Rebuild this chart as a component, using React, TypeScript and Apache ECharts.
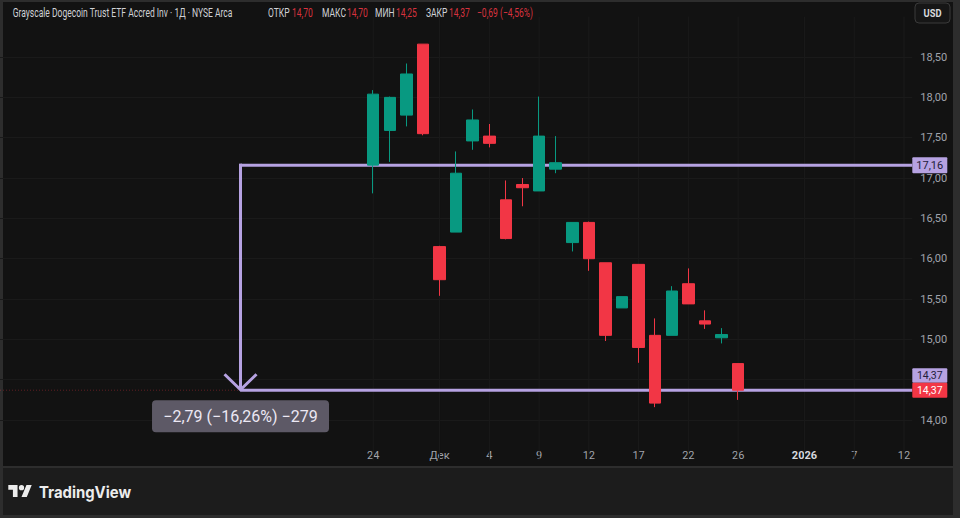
import React, { useEffect, useRef } from 'react';
import * as echarts from 'echarts';

// ---------- data ----------
const padDates = [
  '2025-10-23', '2025-10-24', '2025-10-27', '2025-10-28', '2025-10-29', '2025-10-30', '2025-10-31',
  '2025-11-03', '2025-11-04', '2025-11-05', '2025-11-06', '2025-11-07', '2025-11-10', '2025-11-11',
  '2025-11-12', '2025-11-13', '2025-11-14', '2025-11-17', '2025-11-18', '2025-11-19', '2025-11-20',
  '2025-11-21',
];
const candleDates = [
  '2025-11-24', '2025-11-25', '2025-11-26', '2025-11-28', '2025-12-01', '2025-12-02', '2025-12-03',
  '2025-12-04', '2025-12-05', '2025-12-08', '2025-12-09', '2025-12-10', '2025-12-11', '2025-12-12',
  '2025-12-15', '2025-12-16', '2025-12-17', '2025-12-18', '2025-12-19', '2025-12-22', '2025-12-23',
  '2025-12-24', '2025-12-26',
];
const futureDates = [
  '2025-12-29', '2025-12-30', '2025-12-31', '2026-01-02', '2026-01-05', '2026-01-06', '2026-01-07',
  '2026-01-08', '2026-01-09', '2026-01-12',
];
const opens = [17.16, 17.59, 17.78, 18.66, 16.15, 16.33, 17.46, 17.52, 16.73, 16.92, 16.84, 17.11, 16.2, 16.45, 15.95, 15.39, 15.93, 15.05, 15.05, 15.69, 15.23, 15.02, 14.7];
const closes = [18.04, 18.0, 18.29, 17.55, 15.74, 17.06, 17.72, 17.43, 16.25, 16.88, 17.52, 17.19, 16.45, 16.0, 15.05, 15.53, 14.9, 14.21, 15.6, 15.44, 15.19, 15.06, 14.37];
const lows = [16.81, 17.2, 17.64, 17.53, 15.54, 16.33, 17.35, 17.38, 16.24, 16.65, 16.84, 17.06, 16.09, 15.85, 14.98, 15.39, 14.71, 14.16, 15.05, 15.44, 15.13, 14.95, 14.25];
const highs = [18.09, 18.01, 18.42, 18.66, 16.16, 17.33, 17.85, 17.67, 16.97, 17.0, 18.01, 17.52, 16.45, 16.46, 15.95, 15.53, 15.93, 15.26, 15.66, 15.88, 15.36, 15.14, 14.7];

const tickLabels: [string, string][] = [
  ['2025-11-24', '24'], ['2025-12-01', 'Дек'], ['2025-12-04', '4'], ['2025-12-09', '9'],
  ['2025-12-12', '12'], ['2025-12-17', '17'], ['2025-12-22', '22'], ['2025-12-26', '26'],
  ['2026-01-02', '2026'], ['2026-01-07', '7'], ['2026-01-12', '12'],
];
// price-scale labels shown (14,50 is hidden behind the last-price badges)
const priceTicks = [14.0, 15.0, 15.5, 16.0, 16.5, 17.0, 17.5, 18.0, 18.5];

const rangeStart = '2025-11-12';
const rangeFrom = 17.16;
const rangeTo = 14.37;
const lastClose = 14.37;

const headerTitle = 'Grayscale Dogecoin Trust ETF Accred Inv · 1Д · NYSE Arca';
const headerFields: [string, string][] = [
  ['ОТКР', '14,70'], ['МАКС', '14,70'], ['МИН', '14,25'], ['ЗАКР', '14,37'],
];
const headerChange = '\u22120,69 (\u22124,56%)';

// ---------- helpers ----------
const categories = [...padDates, ...candleDates, ...futureDates];
const labelMap = new Map(tickLabels);
const fmt = (v: number) => (v < 0 ? '\u2212' : '') + Math.abs(v).toFixed(2).replace('.', ',');

const LAV = '#b6a2e2';
const RED = '#f23645';
const GREEN = '#089981';
const FONT = 'Roboto, "Noto Sans", sans-serif';

const LOGO_D = 'M14 22H7V11H0V4h14v18zM28 22h-8l7.5-18h8L28 22zM24 8a4 4 0 1 1-8 0a4 4 0 1 1 8 0z';
let logoRegistered = false;
function ensureLogo() {
  if (logoRegistered) return;
  echarts.graphic.registerShape('tvlogo', echarts.graphic.extendPath(LOGO_D, {}) as any);
  logoRegistered = true;
}

function buildOption(): any {
  const candleData = candleDates.map((d, i) => [d, opens[i], closes[i], lows[i], highs[i]]);
  const startIdx = categories.indexOf(rangeStart);
  const diff = rangeTo - rangeFrom;
  const pct = (diff / rangeFrom) * 100;
  const ticksCount = Math.round(diff * 100);
  const measureText = `${fmt(diff)} (${fmt(pct)}%) ${ticksCount < 0 ? '\u2212' : ''}${Math.abs(ticksCount)}`;

  const headerScale = 0.71;
  const headerX = [268, 322, 375, 426];
  const headerValX = [292, 347, 396, 449];
  const headerEls: any[] = [
    {
      type: 'text', x: 12.7, y: 13, scaleX: headerScale, silent: true,
      style: { text: headerTitle, fill: '#cfd1d6', font: `12px ${FONT}`, verticalAlign: 'middle' },
    },
  ];
  headerFields.forEach(([k, v], i) => {
    headerEls.push({
      type: 'text', x: headerX[i], y: 13, scaleX: headerScale, silent: true,
      style: { text: k, fill: '#cfd1d6', font: `12px ${FONT}`, verticalAlign: 'middle' },
    });
    headerEls.push({
      type: 'text', x: headerValX[i], y: 13, scaleX: headerScale, silent: true,
      style: { text: v, fill: '#d8333f', font: `12px ${FONT}`, verticalAlign: 'middle' },
    });
  });
  headerEls.push({
    type: 'text', x: 477, y: 13, scaleX: headerScale, silent: true,
    style: { text: headerChange, fill: '#d8333f', font: `12px ${FONT}`, verticalAlign: 'middle' },
  });

  return {
    animation: false,
    backgroundColor: 'transparent',
    grid: { left: -2.05, right: 47.7, top: 16.7, bottom: 57.6, containLabel: false },
    xAxis: {
      type: 'category',
      data: categories,
      boundaryGap: true,
      offset: -10,
      axisLine: { show: false },
      axisTick: { show: false },
      splitLine: { show: false },
      axisLabel: {
        interval: (_i: number, v: string) => labelMap.has(v),
        margin: 0,
        fontFamily: FONT,
        fontSize: 11,
        color: '#a0a3ab',
        formatter: (v: string) => {
          const l = labelMap.get(v) || '';
          return l === '2026' ? `{b|${l}}` : l;
        },
        rich: { b: { fontFamily: FONT, fontSize: 11, fontWeight: 'bold', color: '#d6d8de' } },
      },
    },
    yAxis: {
      type: 'value',
      position: 'right',
      min: 13.5,
      max: 19,
      interval: 0.5,
      axisLine: { show: false },
      axisTick: { show: false },
      splitLine: { show: true, showMinLine: false, showMaxLine: false, lineStyle: { color: '#1a1a1a', width: 1 } },
      axisLabel: {
        showMinLabel: false,
        showMaxLabel: false,
        margin: 8,
        fontFamily: FONT,
        fontSize: 11,
        color: '#a0a3ab',
        formatter: (v: number) => (priceTicks.some((t) => Math.abs(t - v) < 1e-6) ? fmt(v) : ''),
      },
    },
    graphic: [
      ...headerEls,
      {
        type: 'rect', silent: true,
        shape: { x: 915, y: 3, width: 35, height: 20, r: 4 },
        style: { fill: '#161616', stroke: '#3a3a3a', lineWidth: 1 },
      },
      {
        type: 'text', x: 932.5, y: 13.5, scaleX: 0.85, silent: true,
        style: { text: 'USD', fill: '#d8dade', font: `bold 11px ${FONT}`, align: 'center', verticalAlign: 'middle' },
      },
      {
        type: 'tvlogo', x: 8.3, y: 482.4, scaleX: 0.66, scaleY: 0.66, silent: true,
        style: { fill: '#ececec' },
      },
      {
        type: 'text', x: 39, y: 492, scaleX: 0.93, silent: true,
        style: { text: 'TradingView', fill: '#ececec', font: `bold 16px Inter, ${FONT}`, verticalAlign: 'middle' },
      },
    ],
    series: [
      {
        type: 'custom',
        z: 1,
        clip: false,
        silent: true,
        data: [[startIdx, rangeFrom, rangeTo]],
        encode: { x: 0, y: [1, 2] },
        renderItem: (params: any, api: any) => {
          const cs = params.coordSys;
          const left = cs.x;
          const right = cs.x + cs.width;
          const top = cs.y;
          const bottom = cs.y + cs.height;
          const p1 = api.coord([startIdx, rangeFrom]);
          const p2 = api.coord([startIdx, rangeTo]);
          const pl = api.coord([startIdx, lastClose]);
          const children: any[] = [];
          tickLabels.forEach(([d]) => {
            const c = api.coord([categories.indexOf(d), rangeFrom]);
            children.push({
              type: 'line',
              shape: { x1: c[0], y1: top, x2: c[0], y2: bottom },
              style: { stroke: '#1a1a1a', lineWidth: 1 },
            });
          });
          children.push({
            type: 'line',
            shape: { x1: left, y1: pl[1], x2: right, y2: pl[1] },
            style: { stroke: 'rgba(242,54,69,0.35)', lineWidth: 1, lineDash: [1, 2] },
          });
          children.push({
            type: 'line',
            shape: { x1: p1[0], y1: p1[1], x2: right, y2: p1[1] },
            style: { stroke: LAV, lineWidth: 3 },
          });
          children.push({
            type: 'line',
            shape: { x1: p2[0], y1: p2[1], x2: right, y2: p2[1] },
            style: { stroke: LAV, lineWidth: 3 },
          });
          children.push({
            type: 'line',
            shape: { x1: p1[0], y1: p1[1] - 1.5, x2: p2[0], y2: p2[1] - 1 },
            style: { stroke: LAV, lineWidth: 3 },
          });
          children.push({
            type: 'polyline',
            shape: { points: [[p2[0] - 16, p2[1] - 16], [p2[0], p2[1] - 0.5], [p2[0] + 16, p2[1] - 16]] },
            style: { stroke: LAV, lineWidth: 3, fill: 'none' },
          });
          children.push({
            type: 'rect',
            shape: { x: p2[0] - 88.5, y: p2[1] + 10, width: 177, height: 32, r: 4 },
            style: { fill: '#5d5966' },
          });
          children.push({
            type: 'text',
            style: {
              text: measureText, x: p2[0], y: p2[1] + 26.5, fill: '#ece8f4',
              font: `16px ${FONT}`, align: 'center', verticalAlign: 'middle',
            },
          });
          // price-scale badges
          children.push({
            type: 'rect',
            shape: { x: right, y: p1[1] - 8, width: 35, height: 16, r: 1 },
            style: { fill: LAV },
          });
          children.push({
            type: 'text',
            style: { text: fmt(rangeFrom), x: right + 17.5, y: p1[1], fill: '#23203a', font: `11px ${FONT}`, lineHeight: 11, align: 'center', verticalAlign: 'middle' },
          });
          children.push({
            type: 'rect',
            shape: { x: right, y: p2[1] - 22, width: 35, height: 14.5, r: 1 },
            style: { fill: LAV },
          });
          children.push({
            type: 'text',
            style: { text: fmt(rangeTo), x: right + 17.5, y: p2[1] - 15, fill: '#23203a', font: `10.5px ${FONT}`, lineHeight: 10, align: 'center', verticalAlign: 'middle' },
          });
          children.push({
            type: 'rect',
            shape: { x: right, y: pl[1] - 7.5, width: 35, height: 15, r: 1 },
            style: { fill: RED },
          });
          children.push({
            type: 'text',
            style: { text: fmt(lastClose), x: right + 17.5, y: pl[1] + 0.5, fill: '#ffffff', font: `10.5px ${FONT}`, lineHeight: 10, align: 'center', verticalAlign: 'middle' },
          });
          return { type: 'group', children };
        },
      },
      {
        type: 'candlestick',
        z: 3,
        barWidth: 12,
        silent: true,
        data: candleData,
        encode: { x: 0, y: [1, 2, 3, 4] },
        itemStyle: {
          color: GREEN,
          color0: RED,
          borderColor: GREEN,
          borderColor0: RED,
          borderWidth: 1,
        },
      },
    ],
  };
}

export default function App() {
  const ref = useRef<HTMLDivElement>(null);
  useEffect(() => {
    if (!ref.current) return;
    ensureLogo();
    const chart = echarts.init(ref.current, null, { renderer: 'svg' });
    chart.setOption(buildOption());
    return () => chart.dispose();
  }, []);
  return (
    <div style={{ position: 'fixed', left: 0, top: 0, width: 960, height: 518, background: '#2d2d2d', overflow: 'hidden' }}>
      <div style={{ position: 'absolute', left: 3, top: 2, width: 950, height: 464, background: '#121212' }} />
      <div style={{ position: 'absolute', left: 3, top: 468, width: 950, height: 47, background: '#1c1c1c' }} />
      <div ref={ref} style={{ position: 'absolute', left: 0, top: 0, width: 960, height: 518 }} />
    </div>
  );
}
